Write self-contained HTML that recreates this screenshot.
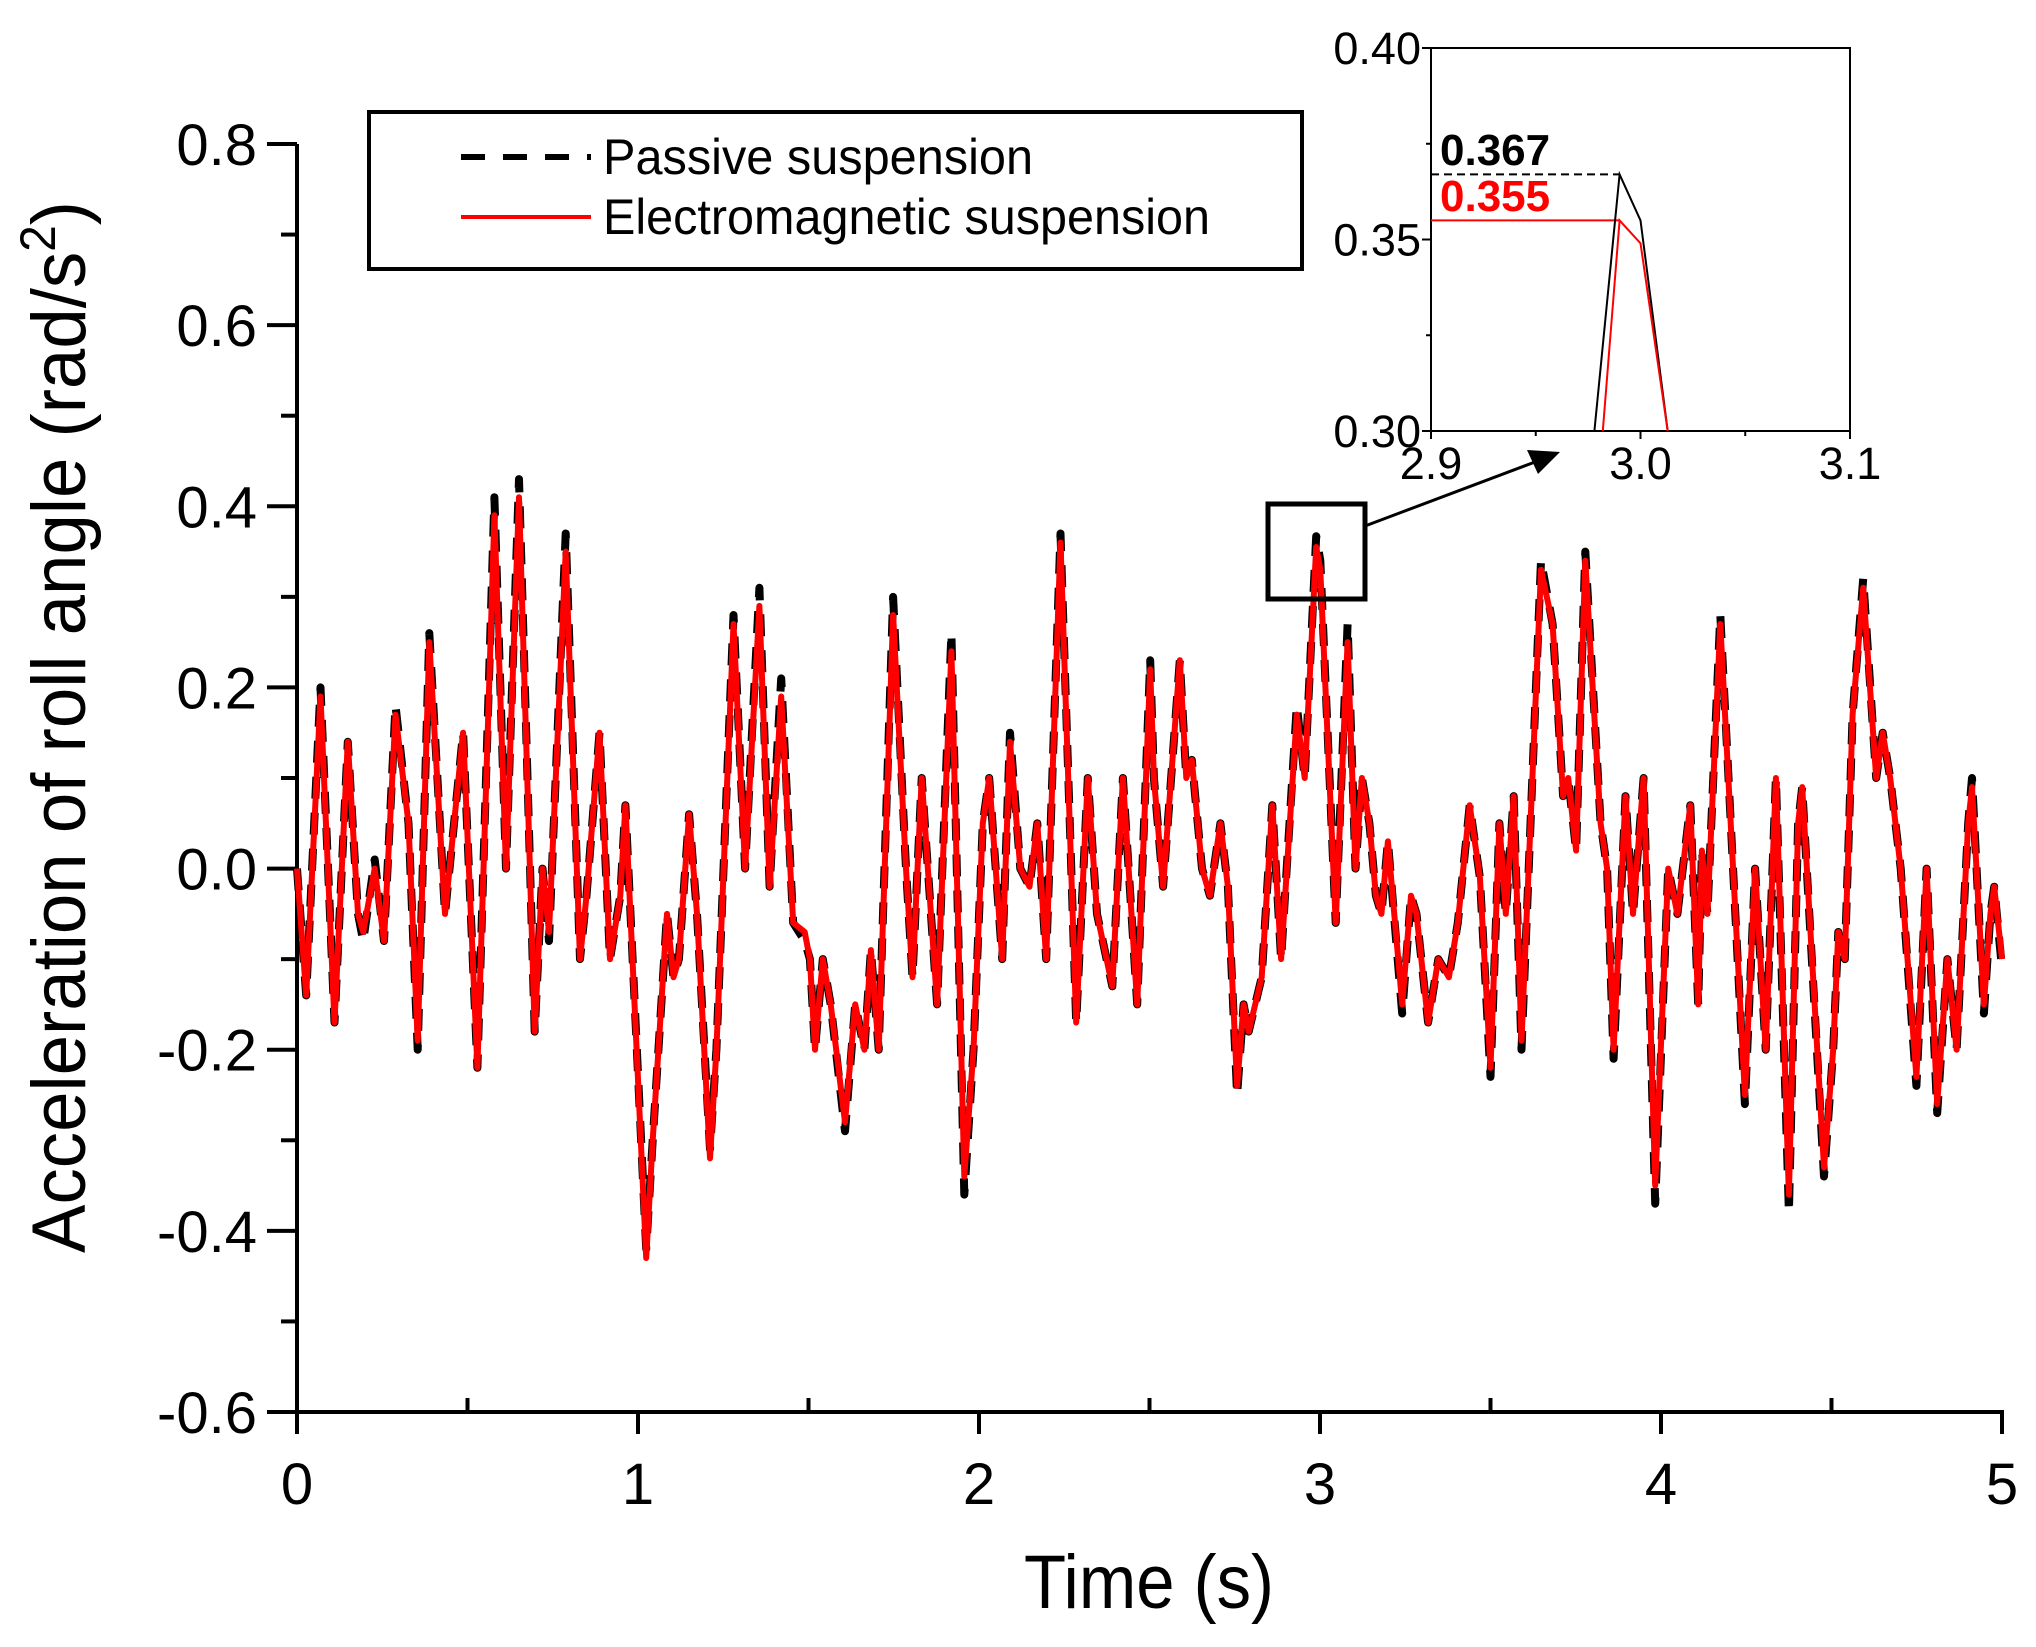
<!DOCTYPE html>
<html><head><meta charset="utf-8"><style>
html,body{margin:0;padding:0;background:#fff;}
svg{display:block;font-family:"Liberation Sans",Arial,sans-serif;}
</style></head><body>
<svg id="chart" width="2036" height="1647" viewBox="0 0 2036 1647" xmlns="http://www.w3.org/2000/svg">
<g id="main-axes"></g>
<g id="main-series"></g>
<g id="legend">
  <rect x="369" y="112" width="933" height="157" fill="#fff" stroke="#000" stroke-width="4"/>
  <line x1="461" y1="157" x2="591" y2="157" stroke="#000" stroke-width="6" stroke-dasharray="24,18"/>
  <text x="603" y="174" font-size="50" textLength="430" lengthAdjust="spacingAndGlyphs">Passive suspension</text>
  <line x1="461" y1="217" x2="591" y2="217" stroke="#f00" stroke-width="4"/>
  <text x="603" y="234" font-size="50" textLength="607" lengthAdjust="spacingAndGlyphs">Electromagnetic suspension</text>
</g>
<g id="inset"></g>
<rect x="1268" y="504" width="97" height="95" fill="none" stroke="#000" stroke-width="5"/>
<line x1="1365" y1="526" x2="1535" y2="462" stroke="#000" stroke-width="3"/>
<polygon points="1560,452 1527,450 1538,474" fill="#000"/>
<script>
// Main chart data (time in s, acceleration in rad/s^2)
const timeS = [0,0.027,0.069,0.110,0.149,0.179,0.194,0.228,0.255,0.289,0.327,0.354,0.388,0.434,0.487,0.529,0.579,0.613,0.651,0.697,0.720,0.739,0.788,0.830,0.849,0.887,0.918,0.948,0.963,1.024,1.043,1.085,1.104,1.120,1.150,1.173,1.211,1.230,1.280,1.314,1.356,1.386,1.420,1.455,1.489,1.504,1.519,1.542,1.565,1.607,1.637,1.664,1.683,1.706,1.748,1.786,1.805,1.832,1.877,1.919,1.957,1.984,2.011,2.030,2.068,2.091,2.121,2.148,2.171,2.197,2.239,2.285,2.319,2.346,2.391,2.422,2.464,2.502,2.513,2.540,2.589,2.608,2.624,2.654,2.677,2.708,2.730,2.757,2.776,2.791,2.829,2.860,2.886,2.932,2.955,2.989,3.001,3.046,3.081,3.104,3.123,3.145,3.164,3.180,3.199,3.241,3.267,3.283,3.317,3.347,3.378,3.404,3.439,3.469,3.500,3.526,3.545,3.568,3.591,3.648,3.682,3.713,3.728,3.751,3.778,3.823,3.842,3.861,3.896,3.918,3.949,3.983,4.021,4.048,4.086,4.109,4.120,4.136,4.174,4.246,4.276,4.307,4.337,4.375,4.402,4.414,4.478,4.505,4.520,4.539,4.562,4.593,4.631,4.650,4.672,4.703,4.749,4.779,4.810,4.840,4.867,4.901,4.912,4.947,4.966,4.977,5.0];
const electroVals = [0,-0.14,0.19,-0.17,0.14,-0.05,-0.07,0.0,-0.08,0.17,0.05,-0.19,0.25,-0.05,0.15,-0.22,0.39,0.0,0.41,-0.18,0.0,-0.07,0.35,-0.1,-0.03,0.15,-0.1,-0.03,0.07,-0.43,-0.3,-0.05,-0.12,-0.1,0.06,-0.05,-0.32,-0.2,0.27,0.0,0.29,-0.02,0.19,-0.06,-0.07,-0.1,-0.2,-0.1,-0.15,-0.28,-0.15,-0.2,-0.09,-0.2,0.28,0.0,-0.12,0.1,-0.15,0.24,-0.34,-0.2,0.05,0.1,-0.1,0.14,0.0,-0.02,0.05,-0.1,0.36,-0.17,0.1,-0.05,-0.13,0.1,-0.15,0.22,0.1,-0.02,0.23,0.1,0.12,0.0,-0.03,0.05,-0.02,-0.24,-0.15,-0.18,-0.12,0.07,-0.1,0.17,0.1,0.355,0.33,-0.06,0.25,0.0,0.1,0.05,-0.03,-0.05,0.03,-0.15,-0.03,-0.05,-0.17,-0.1,-0.12,-0.06,0.07,-0.01,-0.22,0.05,-0.05,0.08,-0.19,0.33,0.27,0.08,0.1,0.02,0.34,0.05,0.0,-0.2,0.08,-0.05,0.1,-0.35,0.0,-0.05,0.07,-0.15,0.02,-0.05,0.27,-0.25,0.0,-0.2,0.1,-0.36,0.05,0.09,-0.33,-0.2,-0.07,-0.1,0.17,0.31,0.1,0.15,0.1,0.0,-0.23,0.0,-0.26,-0.1,-0.2,0.05,0.09,-0.15,-0.05,-0.02,-0.1];
const passiveVals = [0,-0.14,0.2,-0.17,0.14,-0.05,-0.08,0.01,-0.08,0.18,0.05,-0.2,0.26,-0.05,0.15,-0.22,0.41,0.0,0.43,-0.18,0.0,-0.08,0.37,-0.1,-0.03,0.15,-0.1,-0.03,0.07,-0.42,-0.3,-0.05,-0.12,-0.1,0.06,-0.05,-0.31,-0.2,0.28,0.0,0.31,-0.02,0.21,-0.06,-0.08,-0.1,-0.2,-0.1,-0.15,-0.29,-0.15,-0.2,-0.09,-0.2,0.3,0.0,-0.12,0.1,-0.15,0.26,-0.36,-0.2,0.05,0.1,-0.1,0.15,0.0,-0.02,0.05,-0.1,0.37,-0.17,0.1,-0.05,-0.13,0.1,-0.15,0.23,0.1,-0.02,0.23,0.1,0.12,0.0,-0.03,0.05,-0.02,-0.25,-0.15,-0.18,-0.12,0.07,-0.1,0.18,0.1,0.367,0.34,-0.06,0.27,0.0,0.1,0.05,-0.03,-0.05,0.03,-0.16,-0.03,-0.05,-0.17,-0.1,-0.12,-0.06,0.07,-0.01,-0.23,0.05,-0.05,0.08,-0.2,0.34,0.27,0.08,0.1,0.02,0.35,0.05,0.0,-0.21,0.08,-0.05,0.1,-0.37,0.0,-0.05,0.07,-0.15,0.02,-0.05,0.28,-0.26,0.0,-0.2,0.1,-0.38,0.05,0.09,-0.34,-0.2,-0.07,-0.1,0.17,0.32,0.1,0.15,0.1,0.0,-0.24,0.0,-0.27,-0.1,-0.2,0.05,0.1,-0.16,-0.05,-0.02,-0.11];
const xTickLabels = ["0","1","2","3","4","5"];
const yTickLabels = ["-0.6","-0.4","-0.2","0.0","0.2","0.4","0.6","0.8"];
// Inset data
const insetPassiveT = [2.978,2.99,3.0,3.013];
const insetPassiveV = [0.30,0.367,0.355,0.30];
const insetElectroT = [2.982,2.99,3.0,3.013];
const insetElectroV = [0.30,0.355,0.349,0.30];
const insetXLabels = ["2.9","3.0","3.1"];
const insetYLabels = ["0.30","0.35","0.40"];

const NS="http://www.w3.org/2000/svg";
function mk(tag, attrs, parent, txt){const e=document.createElementNS(NS,tag);for(const k in attrs)e.setAttribute(k,attrs[k]);if(txt!==undefined)e.textContent=txt;parent.appendChild(e);return e;}

const X0=297,X1=2002,Y0=1412,Y1=144;
const xs=t=>X0+(t-0)/5*(X1-X0);
const ys=v=>Y0-(v+0.6)/1.4*(Y0-Y1);
const ax=document.getElementById('main-axes');
let el;
el=mk('line',{x1:X0,y1:Y1,x2:X0,y2:Y0+2,stroke:'#000','stroke-width':4},ax);


el=mk('line',{x1:X0-2,y1:Y0,x2:X1+2,y2:Y0,stroke:'#000','stroke-width':4},ax);


yTickLabels.forEach(lab=>{
  const v=parseFloat(lab),y=ys(v);
  el=mk('line',{x1:X0-30,y1:y,x2:X0,y2:y,stroke:'#000','stroke-width':4},ax);
  
  
  el=mk('text',{x:X0-40,y:y+21,'font-size':58,'text-anchor':'end'},ax,lab);
  
  
  if(v<0.8){
    el=mk('line',{x1:X0-16,y1:ys(v+0.1),x2:X0,y2:ys(v+0.1),stroke:'#000','stroke-width':4},ax);
    
    
  }
});
xTickLabels.forEach(lab=>{
  const t=parseFloat(lab),x=xs(t);
  el=mk('line',{x1:x,y1:Y0,x2:x,y2:Y0+22,stroke:'#000','stroke-width':4},ax);
  
  
  el=mk('text',{x:x,y:Y0+92,'font-size':58,'text-anchor':'middle'},ax,lab);
  
  
  if(t<5){
    el=mk('line',{x1:xs(t+0.5),y1:Y0-14,x2:xs(t+0.5),y2:Y0,stroke:'#000','stroke-width':4},ax);
    
    
  }
});
el=mk('text',{x:1149,y:1608,'font-size':76,'text-anchor':'middle',textLength:250,lengthAdjust:'spacingAndGlyphs'},ax,'Time (s)');


el=mk('text',{x:0,y:0,'font-size':76,'text-anchor':'middle',transform:'translate(85,727) rotate(-90)',textLength:1052,lengthAdjust:'spacingAndGlyphs'},ax);


el.appendChild(document.createTextNode('Acceleration of roll angle (rad/s'));
mk('tspan',{'font-size':50,dy:-30},el,'2');
mk('tspan',{dy:30},el,')');

const sg=document.getElementById('main-series');
function poly(ts,vs,fx,fy){return ts.map((t,i)=>fx(t).toFixed(1)+','+fy(vs[i]).toFixed(1)).join(' ');}
el=mk('polyline',{points:poly(timeS,passiveVals,xs,ys),fill:'none',stroke:'#000','stroke-width':8,'stroke-dasharray':'22,14','stroke-linejoin':'round'},sg);


el=mk('polyline',{points:poly(timeS,electroVals,xs,ys),fill:'none',stroke:'#f00','stroke-width':6,'stroke-linejoin':'round'},sg);



const IX0=1431,IX1=1850,IY0=431,IY1=48;
const ixs=t=>IX0+(t-2.9)/0.2*(IX1-IX0);
const iys=v=>IY0-(v-0.30)/0.10*(IY0-IY1);
const ig=document.getElementById('inset');
el=mk('rect',{x:IX0,y:IY1,width:IX1-IX0,height:IY0-IY1,fill:'#fff',stroke:'#000','stroke-width':2},ig);


insetYLabels.forEach(lab=>{
  const v=parseFloat(lab),y=iys(v);
  el=mk('line',{x1:IX0-9,y1:y,x2:IX0,y2:y,stroke:'#000','stroke-width':2},ig);
  
  
  el=mk('text',{x:IX0-10,y:y+16,'font-size':45,'text-anchor':'end'},ig,lab);
  
  
  if(v<0.40){
    el=mk('line',{x1:IX0-5,y1:iys(v+0.025),x2:IX0,y2:iys(v+0.025),stroke:'#000','stroke-width':2},ig);
    
    
  }
});
insetXLabels.forEach(lab=>{
  const t=parseFloat(lab),x=ixs(t);
  el=mk('line',{x1:x,y1:IY0,x2:x,y2:IY0+8,stroke:'#000','stroke-width':2},ig);
  
  
  el=mk('text',{x:x,y:IY0+48,'font-size':45,'text-anchor':'middle'},ig,lab);
  
  
  if(t<3.1){
    el=mk('line',{x1:ixs(t+0.05),y1:IY0,x2:ixs(t+0.05),y2:IY0+5,stroke:'#000','stroke-width':2},ig);
    
    
  }
});
el=mk('line',{x1:IX0,y1:iys(insetPassiveV[1]),x2:ixs(insetPassiveT[1]),y2:iys(insetPassiveV[1]),stroke:'#000','stroke-width':2,'stroke-dasharray':'8,5'},ig);


el=mk('line',{x1:IX0,y1:iys(insetElectroV[1]),x2:ixs(insetElectroT[1]),y2:iys(insetElectroV[1]),stroke:'#f00','stroke-width':2},ig);


el=mk('polyline',{points:poly(insetPassiveT,insetPassiveV,ixs,iys),fill:'none',stroke:'#000','stroke-width':2},ig);


el=mk('polyline',{points:poly(insetElectroT,insetElectroV,ixs,iys),fill:'none',stroke:'#f00','stroke-width':2},ig);


el=mk('text',{x:1440,y:165,'font-size':44,'font-weight':'bold',fill:'#000'},ig,'0.367');


el=mk('text',{x:1440,y:211,'font-size':44,'font-weight':'bold',fill:'#f00'},ig,'0.355');


</script>
</svg>
</body></html>
